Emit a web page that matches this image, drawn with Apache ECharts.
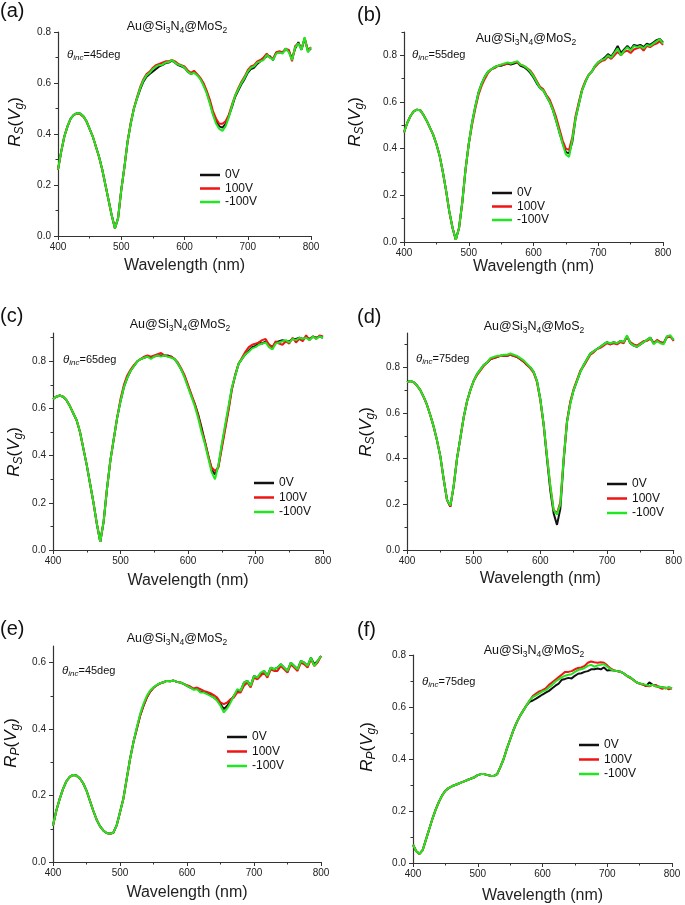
<!DOCTYPE html>
<html>
<head>
<meta charset="utf-8">
<script src="https://cdn.jsdelivr.net/npm/echarts@6/dist/echarts.min.js"></script>
<style>
html,body{margin:0;padding:0;background:#fff;}
#chart{width:685px;height:905px;}
</style>
</head>
<body>
<div id="chart"></div>
<script>
// ---------------- DATA ----------------
const wavelength = [400,405,410,415,420,425,430,435,440,445,450,455,460,465,470,475,480,485,490,495,500,505,510,515,520,525,530,535,540,545,550,555,560,565,570,575,580,585,590,595,600,605,610,615,620,625,630,635,640,645,650,655,660,665,670,675,680,685,690,695,700,705,710,715,720,725,730,735,740,745,750,755,760,765,770,775,780,785,790,795,800];
const seriesNames = ['0V', '100V', '-100V'];
const xTickLabels = [400, 500, 600, 700, 800];
const yTickLabels = [0.0, 0.2, 0.4, 0.6, 0.8];

// (a) Rs, 45 deg
const a_0V = [.26,.33,.39,.43,.46,.475,.482,.48,.47,.45,
 .42,.39,.35,.31,.26,.20,.14,.08,.03,.07,
 .18,.27,.37,.44,.50,.54,.575,.605,.625,.635,
 .645,.655,.665,.67,.678,.68,.688,.68,.67,.665,
 .66,.645,.635,.642,.632,.618,.595,.565,.525,.48,
 .45,.43,.425,.44,.47,.505,.545,.57,.595,.615,
 .64,.655,.66,.675,.685,.695,.705,.705,.69,.72,
 .72,.72,.735,.725,.695,.735,.76,.73,.775,.725,
 .735];
const a_100V = [.26,.33,.39,.43,.46,.475,.48,.478,.468,.45,
 .42,.39,.35,.31,.26,.20,.14,.08,.03,.07,
 .18,.27,.37,.445,.50,.545,.585,.615,.635,.645,
 .66,.67,.675,.68,.685,.685,.69,.685,.675,.67,
 .665,.65,.64,.648,.635,.62,.60,.57,.535,.49,
 .46,.44,.44,.45,.475,.515,.55,.58,.605,.625,
 .65,.665,.67,.685,.69,.70,.715,.70,.695,.72,
 .725,.72,.73,.73,.685,.745,.755,.735,.775,.73,
 .74];
const a_neg100V = [.26,.33,.39,.43,.46,.475,.482,.48,.47,.45,
 .42,.39,.35,.31,.26,.20,.14,.08,.03,.07,
 .18,.27,.37,.44,.50,.54,.58,.61,.63,.64,
 .655,.665,.67,.672,.68,.682,.69,.68,.672,.668,
 .66,.645,.635,.64,.63,.615,.59,.56,.52,.475,
 .44,.42,.412,.43,.465,.51,.55,.575,.60,.62,
 .645,.66,.665,.68,.685,.69,.71,.70,.69,.715,
 .72,.715,.735,.72,.69,.74,.755,.73,.78,.72,
 .74];

// (b) Rs, 55 deg
const b_0V = [.47,.51,.54,.56,.567,.565,.545,.52,.49,.46,
 .42,.37,.30,.22,.13,.06,.01,.06,.17,.31,
 .42,.51,.58,.64,.68,.71,.73,.74,.75,.755,
 .755,.76,.765,.76,.765,.77,.755,.75,.74,.725,
 .705,.68,.66,.65,.625,.60,.565,.52,.47,.425,
 .385,.38,.43,.53,.59,.65,.685,.715,.73,.755,
 .77,.78,.79,.805,.795,.815,.84,.81,.825,.84,
 .825,.845,.84,.845,.835,.85,.845,.855,.865,.87,
 .855];
const b_100V = [.47,.51,.54,.56,.567,.565,.545,.52,.49,.46,
 .42,.37,.30,.22,.13,.06,.01,.06,.17,.31,
 .42,.50,.57,.63,.67,.70,.725,.74,.745,.755,
 .76,.76,.765,.765,.77,.77,.76,.755,.745,.735,
 .715,.69,.665,.655,.63,.61,.575,.535,.485,.435,
 .40,.395,.45,.54,.60,.655,.69,.715,.73,.75,
 .765,.775,.78,.795,.785,.80,.815,.80,.815,.82,
 .81,.825,.83,.835,.82,.84,.835,.845,.85,.86,
 .845];
const b_neg100V = [.47,.51,.54,.56,.567,.565,.545,.52,.49,.46,
 .42,.37,.30,.22,.13,.06,.01,.06,.17,.31,
 .42,.51,.58,.64,.68,.71,.73,.74,.75,.755,
 .76,.765,.77,.765,.77,.775,.76,.755,.745,.73,
 .71,.685,.66,.65,.625,.60,.565,.52,.47,.42,
 .375,.365,.44,.53,.59,.65,.685,.715,.73,.755,
 .77,.78,.785,.80,.79,.81,.83,.80,.82,.835,
 .82,.84,.835,.84,.83,.845,.84,.85,.86,.87,
 .85];

// (c) Rs, 65 deg
const c_0V = [.64,.65,.655,.65,.635,.61,.58,.55,.50,.43,
 .36,.28,.20,.11,.035,.12,.26,.38,.47,.56,
 .63,.69,.73,.76,.78,.80,.81,.815,.82,.815,
 .82,.825,.825,.825,.825,.82,.81,.79,.765,.735,
 .695,.655,.62,.575,.52,.46,.40,.34,.32,.355,
 .44,.52,.60,.685,.74,.79,.81,.83,.845,.86,
 .865,.88,.875,.885,.87,.86,.88,.885,.89,.885,
 .885,.895,.895,.90,.895,.90,.895,.905,.90,.905,
 .90];
const c_100V = [.64,.65,.655,.65,.635,.61,.58,.55,.50,.43,
 .36,.28,.20,.11,.035,.12,.26,.38,.47,.56,
 .64,.70,.74,.765,.785,.80,.81,.82,.825,.82,
 .825,.83,.835,.825,.82,.82,.81,.795,.77,.74,
 .70,.66,.62,.57,.51,.46,.40,.35,.335,.35,
 .43,.51,.59,.68,.745,.79,.815,.84,.86,.87,
 .875,.88,.89,.895,.87,.86,.885,.875,.87,.885,
 .875,.90,.88,.895,.885,.91,.89,.905,.895,.91,
 .905];
const c_neg100V = [.64,.65,.655,.65,.635,.61,.58,.55,.50,.43,
 .36,.28,.20,.11,.035,.12,.26,.38,.47,.56,
 .63,.69,.73,.76,.78,.80,.81,.815,.82,.81,
 .82,.825,.82,.825,.82,.815,.81,.79,.765,.73,
 .69,.65,.61,.56,.50,.45,.39,.33,.30,.36,
 .45,.53,.61,.69,.74,.79,.81,.83,.84,.855,
 .86,.87,.875,.88,.86,.85,.875,.88,.885,.89,
 .88,.895,.89,.90,.895,.90,.89,.905,.895,.905,
 .90];

// (d) Rs, 75 deg
const d_0V = [.735,.74,.735,.72,.70,.67,.635,.59,.54,.48,
 .41,.31,.22,.19,.28,.40,.49,.58,.65,.70,
 .74,.77,.79,.81,.82,.835,.84,.845,.85,.85,
 .85,.855,.85,.845,.835,.825,.81,.80,.78,.74,
 .66,.55,.40,.26,.16,.11,.18,.39,.56,.645,
 .70,.74,.78,.81,.835,.86,.87,.88,.89,.90,
 .91,.90,.91,.905,.915,.91,.935,.905,.895,.89,
 .90,.91,.92,.93,.905,.915,.91,.905,.935,.935,
 .92];
const d_100V = [.735,.74,.735,.72,.70,.67,.635,.59,.54,.48,
 .41,.31,.22,.19,.28,.40,.49,.58,.65,.70,
 .74,.765,.785,.805,.82,.835,.84,.845,.85,.85,
 .85,.855,.85,.845,.835,.825,.81,.795,.775,.735,
 .655,.545,.41,.28,.175,.16,.21,.40,.565,.65,
 .705,.745,.785,.805,.83,.855,.865,.88,.885,.895,
 .905,.90,.905,.90,.91,.905,.935,.91,.90,.895,
 .905,.915,.915,.925,.905,.92,.91,.905,.93,.935,
 .915];
const d_neg100V = [.735,.74,.735,.72,.70,.67,.635,.59,.54,.48,
 .41,.31,.22,.195,.28,.40,.49,.58,.65,.70,
 .74,.77,.79,.81,.82,.84,.845,.85,.85,.855,
 .855,.86,.855,.85,.84,.83,.815,.80,.78,.74,
 .66,.55,.41,.28,.175,.155,.20,.40,.56,.64,
 .70,.74,.78,.81,.835,.86,.87,.88,.89,.90,
 .91,.905,.91,.905,.915,.91,.94,.905,.895,.89,
 .90,.91,.92,.93,.90,.915,.905,.90,.935,.94,
 .92];

// (e) Rp, 45 deg
const e_0V = [.11,.155,.19,.22,.243,.256,.262,.26,.252,.237,
 .215,.185,.155,.128,.108,.095,.087,.085,.088,.11,
 .15,.19,.25,.31,.36,.40,.44,.47,.495,.513,
 .525,.532,.538,.541,.545,.544,.546,.542,.54,.536,
 .53,.525,.52,.522,.512,.512,.507,.502,.495,.488,
 .475,.46,.47,.485,.50,.515,.515,.54,.545,.53,
 .56,.555,.565,.575,.56,.585,.58,.585,.595,.585,
 .575,.60,.59,.58,.605,.60,.59,.615,.595,.605,
 .62];
const e_100V = [.11,.155,.19,.22,.243,.256,.262,.26,.252,.237,
 .215,.185,.155,.128,.108,.095,.087,.085,.088,.11,
 .15,.19,.25,.31,.36,.40,.44,.47,.495,.512,
 .524,.532,.537,.541,.545,.544,.546,.542,.54,.536,
 .532,.528,.522,.525,.52,.515,.512,.508,.502,.495,
 .48,.475,.48,.49,.495,.51,.51,.53,.54,.525,
 .555,.55,.56,.57,.555,.58,.575,.575,.59,.58,
 .57,.595,.585,.575,.60,.595,.585,.61,.59,.60,
 .62];
const e_neg100V = [.11,.155,.19,.22,.243,.256,.262,.26,.252,.237,
 .215,.185,.155,.128,.108,.095,.087,.085,.088,.11,
 .15,.19,.25,.31,.36,.405,.445,.476,.50,.516,
 .526,.533,.538,.541,.545,.544,.546,.542,.54,.536,
 .53,.525,.518,.52,.51,.51,.505,.50,.495,.485,
 .47,.45,.462,.48,.50,.52,.515,.54,.545,.53,
 .56,.555,.57,.575,.56,.585,.58,.585,.595,.585,
 .575,.60,.59,.58,.605,.60,.59,.615,.59,.605,
 .62];

// (f) Rp, 75 deg
const f_0V = [.07,.045,.035,.05,.09,.13,.17,.205,.235,.26,
 .278,.288,.295,.30,.305,.31,.315,.32,.325,.33,
 .338,.342,.342,.338,.336,.335,.342,.37,.40,.44,
 .475,.51,.54,.565,.585,.605,.62,.625,.632,.64,
 .648,.655,.662,.672,.682,.69,.705,.708,.712,.71,
 .72,.728,.73,.735,.738,.745,.745,.748,.745,.752,
 .74,.742,.74,.738,.736,.73,.72,.715,.705,.695,
 .69,.688,.68,.695,.685,.68,.678,.676,.672,.675,
 .672];
const f_100V = [.07,.045,.035,.05,.09,.13,.17,.205,.235,.26,
 .278,.288,.295,.30,.305,.31,.315,.32,.325,.33,
 .338,.342,.342,.338,.336,.335,.342,.37,.40,.44,
 .475,.51,.54,.565,.585,.605,.625,.642,.652,.66,
 .665,.672,.685,.695,.705,.715,.725,.735,.735,.738,
 .745,.75,.752,.758,.77,.775,.772,.77,.772,.77,
 .76,.748,.742,.738,.736,.73,.72,.712,.705,.695,
 .69,.685,.682,.68,.685,.685,.676,.67,.675,.668,
 .672];
const f_neg100V = [.07,.045,.035,.05,.09,.13,.17,.205,.235,.26,
 .278,.288,.295,.30,.305,.31,.315,.32,.325,.33,
 .338,.342,.342,.338,.336,.335,.342,.37,.40,.44,
 .475,.51,.54,.565,.585,.605,.625,.638,.645,.652,
 .66,.665,.675,.685,.698,.706,.715,.72,.724,.726,
 .735,.742,.745,.75,.758,.762,.755,.76,.762,.765,
 .755,.745,.74,.738,.736,.73,.72,.715,.705,.695,
 .69,.688,.685,.682,.685,.68,.678,.676,.672,.675,
 .672];

const panelLetters = ['(a)', '(b)', '(c)', '(d)', '(e)', '(f)'];
const angleTexts = ['=45deg', '=55deg', '=65deg', '=75deg', '=45deg', '=75deg'];
const polSub = ['S', 'S', 'S', 'S', 'P', 'P'];
const yMaxes = [0.8, 0.9, 0.92, 0.95, 0.65, 0.8];
const panelData = [
  [a_0V, a_100V, a_neg100V],
  [b_0V, b_100V, b_neg100V],
  [c_0V, c_100V, c_neg100V],
  [d_0V, d_100V, d_neg100V],
  [e_0V, e_100V, e_neg100V],
  [f_0V, f_100V, f_neg100V]
];

// ---------------- LAYOUT / STYLE ----------------
const FONT = 'Liberation Sans';
const colors = ['#111111', '#f01414', '#22e622'];
const axisColor = '#333';
const layout = [
  {grid:[58,32,253,204],  nameGap:22, legend:[200,169,1.5], title:[177,27], ann:[67,55],  letter:[0,11],   ytitle:[15,122]},
  {grid:[404,32,259,210], nameGap:12, legend:[492,187,1.5], title:[526,39], ann:[412,55], letter:[357,15], ytitle:[355,122]},
  {grid:[53,333,270,217], nameGap:23, legend:[254,477,2.5], title:[180,325], ann:[63,360], letter:[0,316],  ytitle:[14,452]},
  {grid:[407,333,268,217],nameGap:21, legend:[607,478,2.5], title:[534,327], ann:[416,359],letter:[357,317], ytitle:[366,432]},
  {grid:[53,646,268,216], nameGap:23, legend:[227,731,2.5], title:[177,639], ann:[62,671], letter:[0,629],  ytitle:[11,743]},
  {grid:[413,655,259,208],nameGap:25, legend:[579,739,2.5], title:[534,651], ann:[422,682],letter:[357,630], ytitle:[367,747]}
];

const grids = [], xAxes = [], yAxes = [], series = [], legends = [], graphics = [];

layout.forEach((L, i) => {
  grids.push({left:L.grid[0], top:L.grid[1], width:L.grid[2], height:L.grid[3], containLabel:false});
  xAxes.push({
    gridIndex:i, type:'value', min:400, max:800, interval:100,
    axisLine:{show:true, onZero:false, lineStyle:{color:axisColor, width:1.2}},
    axisTick:{show:true, length:4, lineStyle:{color:axisColor, width:1}},
    minorTick:{show:true, splitNumber:2, length:2.5, lineStyle:{color:axisColor, width:1}},
    splitLine:{show:false}, minorSplitLine:{show:false},
    axisLabel:{fontSize:10, color:'#222', margin:6, fontFamily:FONT,
      customValues: xTickLabels},
    name:'Wavelength (nm)', nameLocation:'middle', nameGap:L.nameGap,
    nameTextStyle:{fontSize:16, color:'#222', fontFamily:FONT}
  });
  const yMax = yMaxes[i];
  const majors = yTickLabels.filter(v => v <= yMax + 1e-9);
  const minors = [0.1, 0.3, 0.5, 0.7, 0.9].filter(v => v <= yMax + 1e-9);
  yAxes.push({
    gridIndex:i, type:'value', min:0, max:yMax, position:'left',
    axisLine:{show:true, onZero:false, lineStyle:{color:axisColor, width:1.2}},
    axisTick:{show:true, length:4, customValues:majors, lineStyle:{color:axisColor, width:1}},
    axisLabel:{fontSize:10, color:'#222', margin:7, fontFamily:FONT, customValues:majors,
      formatter:(v) => Number(v).toFixed(1)},
    splitLine:{show:false}
  });
  yAxes.push({
    gridIndex:i, type:'value', min:0, max:yMax, position:'left',
    axisLine:{show:false},
    axisTick:{show:true, length:2.5, customValues:minors, lineStyle:{color:axisColor, width:1}},
    axisLabel:{show:false},
    splitLine:{show:false}
  });
  panelData[i].forEach((arr, k) => {
    series.push({
      type:'line', name:seriesNames[k], xAxisIndex:i, yAxisIndex:2*i,
      data: wavelength.map((w, j) => [w, arr[j]]),
      symbol:'none', showSymbol:false, smooth:false,
      lineStyle:{color:colors[k], width:2}, itemStyle:{color:colors[k]},
      z: 2 + k, animation:false
    });
  });
  legends.push({
    orient:'vertical', left:L.legend[0], top:L.legend[1], padding:0,
    itemGap:L.legend[2], itemWidth:20, itemHeight:2.5, icon:'rect',
    data:seriesNames,
    textStyle:{fontSize:12, color:'#111', fontFamily:FONT}
  });
  // panel letter
  graphics.push({type:'text', x:L.letter[0], y:L.letter[1],
    style:{text:panelLetters[i], fontSize:20, fontFamily:FONT, fill:'#111',
      align:'left', verticalAlign:'middle'}});
  // title
  graphics.push({type:'text', x:L.title[0], y:L.title[1],
    style:{text:'{n|Au@Si}{s|3}{n|N}{s|4}{n|@MoS}{s|2}', align:'center', verticalAlign:'middle',
      rich:{
        n:{fontSize:12.5, fontFamily:FONT, fill:'#111', lineHeight:16},
        s:{fontSize:8.5, fontFamily:FONT, fill:'#111', lineHeight:9, padding:[7,0,0,0]}
      }}});
  // angle annotation
  graphics.push({type:'text', x:L.ann[0], y:L.ann[1],
    style:{text:'{t|θ}{s|inc}{n|' + angleTexts[i] + '}', align:'left', verticalAlign:'middle',
      rich:{
        t:{fontSize:11.5, fontFamily:FONT, fontStyle:'italic', fill:'#111', lineHeight:15},
        s:{fontSize:8, fontFamily:FONT, fontStyle:'italic', fill:'#111', lineHeight:8, padding:[6,0,0,0]},
        n:{fontSize:11, fontFamily:FONT, fill:'#111', lineHeight:15}
      }}});
  // y title
  graphics.push({type:'text', x:L.ytitle[0], y:L.ytitle[1], rotation:Math.PI/2,
    style:{text:'{i|R}{s|' + polSub[i] + '}{n|(}{i|V}{s|g}{n|)}', align:'center', verticalAlign:'middle',
      rich:{
        i:{fontSize:17, fontFamily:FONT, fontStyle:'italic', fill:'#111', lineHeight:20},
        s:{fontSize:12, fontFamily:FONT, fontStyle:'italic', fill:'#111', lineHeight:12, padding:[9,0,0,0]},
        n:{fontSize:17, fontFamily:FONT, fill:'#111', lineHeight:20}
      }}});
});

const chart = echarts.init(document.getElementById('chart'), null, {renderer:'canvas'});
chart.setOption({
  backgroundColor:'#ffffff',
  animation:false,
  textStyle:{fontFamily:FONT},
  grid:grids, xAxis:xAxes, yAxis:yAxes, series:series, legend:legends,
  graphic:{elements:graphics}
});
</script>
</body>
</html>
